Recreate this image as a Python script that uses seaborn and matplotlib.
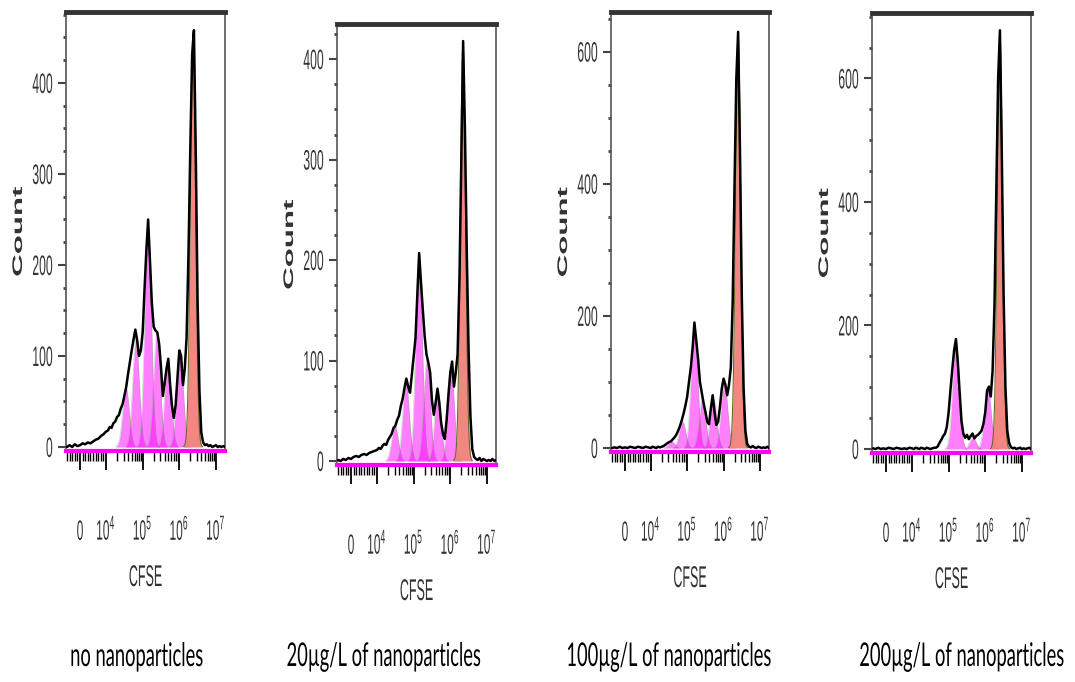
import numpy as np
import pandas as pd
import matplotlib
matplotlib.use("Agg")
import matplotlib.pyplot as plt
import seaborn as sns
from matplotlib.patheffects import AbstractPathEffect
from matplotlib.transforms import Affine2D
from matplotlib.ticker import FixedLocator, NullFormatter

# ---------------- data ----------------
titles = ["no nanoparticles", "20µg/L of nanoparticles",
          "100µg/L of nanoparticles", "200µg/L of nanoparticles"]

cfse_linear = [-5000, -4000, -3000, -2000, -1000, 0, 1000, 2000, 3000, 4000,
               5000, 6000, 7000, 8000, 9000]
cfse_log = [1.00e4, 1.12e4, 1.26e4, 1.41e4, 1.58e4, 1.78e4, 2.00e4, 2.24e4, 2.51e4, 2.82e4,
            3.16e4, 3.55e4, 3.98e4, 4.47e4, 5.01e4, 5.62e4, 6.31e4, 7.08e4, 7.94e4, 8.91e4,
            1.00e5, 1.12e5, 1.26e5, 1.41e5, 1.58e5, 1.78e5, 2.00e5, 2.24e5, 2.51e5, 2.82e5,
            3.16e5, 3.55e5, 3.98e5, 4.47e5, 5.01e5, 5.62e5, 6.31e5, 7.08e5, 7.94e5, 8.91e5,
            1.00e6, 1.12e6, 1.26e6, 1.41e6, 1.58e6, 1.78e6, 2.00e6, 2.24e6, 2.51e6, 2.82e6,
            3.16e6, 3.55e6, 3.98e6, 4.47e6, 5.01e6, 5.62e6, 6.31e6, 7.08e6, 7.94e6, 8.91e6,
            1.00e7, 1.12e7, 1.26e7, 1.41e7, 1.58e7, 1.78e7]
cfse_bins = cfse_linear + cfse_log

counts_none = [0, 2, 0, 3, 1, 2, 4, 3, 5, 4, 6, 8, 9, 12, 14,
               17, 18, 22, 21, 26, 28, 33, 35, 42, 47, 56, 66, 80, 93, 106, 118, 129, 117, 100, 106,
               126, 172, 216, 250, 205, 158, 132, 128, 126, 113, 88, 56, 70, 86, 97, 68, 45, 32, 46, 76,
               106, 100, 68, 86, 120, 212, 330, 430, 458, 322, 160, 62, 16, 5, 2, 3, 1, 2, 0, 1,
               2, 0, 1, 0, 1, 0]
counts_20 = [1, 0, 2, 1, 3, 2, 4, 5, 4, 6, 7, 6, 8, 9, 10,
             11, 13, 12, 15, 17, 16, 21, 24, 27, 33, 35, 41, 45, 55, 62, 73, 82, 74, 68, 86,
             104, 122, 166, 207, 178, 150, 124, 106, 98, 88, 60, 46, 58, 72, 58, 38, 27, 22, 41, 66,
             88, 99, 74, 88, 106, 182, 300, 418, 330, 208, 110, 44, 12, 4, 2, 1, 3, 0, 2, 1,
             0, 1, 0, 2, 0, 1]
counts_100 = [0, 1, 0, 2, 0, 1, 0, 2, 1, 0, 2, 1, 0, 2, 1,
              0, 2, 1, 0, 2, 1, 2, 3, 5, 7, 9, 10, 13, 16, 20, 26, 33, 42, 52, 64,
              78, 100, 122, 152, 190, 162, 134, 100, 84, 68, 55, 40, 36, 60, 80, 55, 35, 40, 62, 90,
              105, 96, 80, 96, 122, 222, 400, 560, 630, 450, 232, 90, 26, 6, 2, 1, 3, 1, 0, 2,
              1, 0, 1, 0, 2, 0]
counts_200 = [1, 0, 2, 0, 1, 0, 2, 1, 0, 2, 1, 0, 1, 0, 2,
              1, 0, 2, 1, 0, 2, 1, 0, 2, 1, 0, 1, 2, 2, 4, 10, 15, 21, 25, 36,
              60, 96, 130, 160, 178, 140, 90, 45, 25, 18, 23, 16, 21, 25, 17, 21, 23, 26, 30, 41,
              60, 95, 101, 85, 126, 232, 420, 600, 678, 480, 250, 100, 30, 10, 3, 1, 2, 0, 1, 2,
              0, 1, 0, 1, 2, 0]
all_counts = [counts_none, counts_20, counts_100, counts_200]

# fitted daughter-generation peaks (position, height) and parent peak
gen_pos_none = [3.50e4, 6.56e4, 1.40e5, 2.46e5, 4.91e5, 1.04e6]
gen_h_none = [65, 118, 245, 125, 95, 108]
gen_pos_20 = [3.09e4, 6.17e4, 1.40e5, 2.31e5, 4.57e5, 1.04e6]
gen_h_20 = [35, 78, 205, 100, 70, 95]
gen_pos_100 = [3.72e4, 7.41e4, 1.58e5, 2.63e5, 5.25e5, 1.05e6]
gen_h_100 = [10, 40, 188, 75, 75, 100]
gen_pos_200 = [1.58e5, 4.57e5, 1.17e6]
gen_h_200 = [176, 18, 100]
all_gen = [(gen_pos_none, gen_h_none), (gen_pos_20, gen_h_20),
           (gen_pos_100, gen_h_100), (gen_pos_200, gen_h_200)]
parent_pos = [2.37e6, 2.22e6, 2.51e6, 2.51e6]
parent_h = [455, 415, 625, 670]

y_major_step = [100, 100, 200, 200]
y_minor_step = [25, 25, 50, 50]
y_top = [478, 435, 660, 706]
y_bottom = [-4.4, -4.0, -6.0, -6.5]

x_major = [0, 1e4, 1e5, 1e6, 1e7]
x_major_labels = ["0", "$10^{4}$", "$10^{5}$", "$10^{6}$", "$10^{7}$"]


# --------------- helpers ---------------
class Stretch(AbstractPathEffect):
    """Scale rendered text in display x / y (the reference lettering is tall and narrow)."""
    def __init__(self, sx=1.0, sy=1.0, ha="center", va="center"):
        super().__init__()
        self.sx, self.sy, self.ha, self.va = sx, sy, ha, va

    def draw_path(self, renderer, gc, tpath, affine, rgbFace=None):
        ext = tpath.get_extents(affine)
        ox, oy = affine.transform((0.0, 0.0))
        cx = {"left": ext.x0, "right": ext.x1}.get(self.ha, 0.5 * (ext.x0 + ext.x1))
        cy = {"bottom": ext.y0, "top": ext.y1, "baseline": oy}.get(self.va, 0.5 * (ext.y0 + ext.y1))
        t = affine + Affine2D().translate(-cx, -cy).scale(self.sx, self.sy).translate(cx, cy)
        renderer.draw_path(gc, tpath, t, rgbFace)


sns.set_style("ticks")
plt.rcParams["font.family"] = ["Liberation Sans", "DejaVu Sans"]
plt.rcParams["mathtext.default"] = "regular"

W, H = 1075, 682
fig = plt.figure(figsize=(W / 100, H / 100), dpi=100)

# axes boxes in pixels: left, right, top, bottom(spine)
boxes = [(66, 225, 12, 451), (337, 496, 24, 465), (611, 769, 12, 452), (872, 1031, 13, 453)]
caption_x = [137, 384, 669, 962]
caption_y = [657, 657, 657, 657]

grid_L = np.linspace(4.0, 7.25, 700)
grid_x = 10 ** grid_L
SIG_GEN = 0.09
SIG_PAR = 0.07

for i in range(4):
    l, r, t, b = boxes[i]
    ax = fig.add_axes([l / W, 1 - b / H, (r - l) / W, (b - t) / H])
    ax.set_xscale("symlog", linthresh=1e4, linscale=0.64, base=10)

    gp, gh = all_gen[i]
    for c, h in zip(gp, gh):
        y = h * np.exp(-0.5 * ((grid_L - np.log10(c)) / SIG_GEN) ** 2)
        m = y > 0.4
        ax.fill_between(grid_x[m], 0, y[m], color="#ff00ff", alpha=0.5, lw=0, zorder=2)
        ax.plot(grid_x[m], y[m], color="#55bb55", lw=0.5, alpha=0.4, zorder=2.5)
    y = parent_h[i] * np.exp(-0.5 * ((grid_L - np.log10(parent_pos[i])) / SIG_PAR) ** 2)
    m = y > 0.4
    ax.fill_between(grid_x[m], 0, y[m], color="#f2807a", alpha=0.95, lw=0, zorder=3)
    ax.plot(grid_x[m], y[m], color="#6b6b25", lw=0.8, zorder=3.5)

    df = pd.DataFrame({"CFSE": cfse_bins, "Count": all_counts[i]})
    sns.lineplot(data=df, x="CFSE", y="Count", ax=ax, color="black", lw=1.8,
                 estimator=None, sort=False, zorder=5)

    ax.set_xlim(-5380, 1.77e7)
    ax.set_ylim(y_bottom[i], y_top[i])

    # x axis
    ax.xaxis.set_major_locator(FixedLocator(x_major))
    ax.set_xticklabels(x_major_labels)
    minors = [-5000, -4000, -3000, -2000, -1000, 1000, 2000, 3000, 4000, 5000,
              6000, 7000, 8000, 9000]
    for d in (1e4, 1e5, 1e6):
        minors += [k * d for k in range(2, 10)]
    ax.xaxis.set_minor_locator(FixedLocator(minors))
    ax.xaxis.set_minor_formatter(NullFormatter())
    ax.tick_params(axis="x", which="major", direction="out", length=14, width=1.3,
                   color="black", pad=50, labelsize=8.6, labelcolor="#333333")
    ax.tick_params(axis="x", which="minor", direction="out", length=7, width=1.0,
                   color="black")
    for lab in ax.get_xticklabels():
        lab.set_va("baseline")
        lab.set_path_effects([Stretch(1.0, 2.35, "center", "baseline")])

    # y axis
    ymaj = list(range(0, int(y_top[i]) + 1, y_major_step[i]))
    ymin = [v for v in range(0, int(y_top[i]) + 1, y_minor_step[i]) if v % y_major_step[i] != 0]
    ax.yaxis.set_major_locator(FixedLocator(ymaj))
    ax.yaxis.set_minor_locator(FixedLocator(ymin))
    ax.set_yticklabels([str(v) for v in ymaj])
    ax.tick_params(axis="y", which="major", direction="out", length=6, width=1.5,
                   color="#444444", pad=3.5, labelsize=8.8, labelcolor="#333333")
    ax.tick_params(axis="y", which="minor", direction="out", length=2.5, width=2,
                   color="#444444")
    for lab in ax.get_yticklabels():
        lab.set_path_effects([Stretch(1.0, 2.3, "right", "center")])

    ax.set_xlabel("CFSE", fontsize=9, color="#333333")
    ax.xaxis.set_label_coords(0.5, -126 / (b - t))
    ax.xaxis.label.set_va("center")
    ax.xaxis.label.set_path_effects([Stretch(1.0, 2.4, "center", "center")])
    ax.set_ylabel("Count", fontsize=10, fontweight="bold", color="#333333")
    ax.yaxis.set_label_coords(-48 / (r - l), 0.5)
    ax.yaxis.label.set_va("center")
    ax.yaxis.label.set_path_effects([Stretch(1.0, 2.25, "center", "center")])

    for s in ("left", "right"):
        ax.spines[s].set_color("#555555")
        ax.spines[s].set_linewidth(1.2)
    ax.spines["top"].set_color("#333333")
    ax.spines["top"].set_linewidth(3.5)
    ax.spines["bottom"].set_color("#ff00ff")
    ax.spines["bottom"].set_linewidth(3)
    ax.set_facecolor("white")

    fig.text(caption_x[i] / W, 1 - caption_y[i] / H, titles[i], ha="center", va="center",
             fontsize=13.2, family=["Lato", "Open Sans", "DejaVu Sans"], color="black",
             path_effects=[Stretch(1.0, 1.78, "center", "center")])

fig.savefig("out.png", dpi=100, facecolor="white")
